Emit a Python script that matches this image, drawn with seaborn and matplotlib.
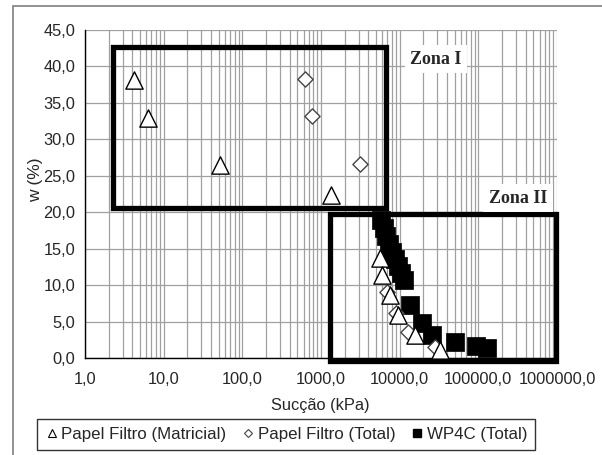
import matplotlib
matplotlib.use("Agg")
import matplotlib.pyplot as plt
from matplotlib.patches import Rectangle
from matplotlib.lines import Line2D
import seaborn as sns
import pandas as pd

# ---- data ----
mat_x = [4.2, 6.3, 52, 1340, 5600, 5900, 7500, 9500, 15500, 32500]
mat_y = [38.1, 32.9, 26.5, 22.4, 13.7, 11.4, 8.6, 5.9, 3.2, 1.1]

tot_x = [624, 766, 3120, 6900, 9000, 12700, 28000]
tot_y = [38.3, 33.2, 26.6, 9.0, 6.2, 3.6, 1.5]

wp_x = [5770, 6300, 6680, 7300, 7950, 8700, 9500, 10350, 11250, 13500, 19000, 25700, 50000, 93000, 128000]
wp_y = [18.9, 17.8, 16.7, 15.6, 14.5, 13.6, 12.6, 11.7, 10.7, 7.3, 4.8, 3.2, 2.2, 1.6, 1.4]

xticks = [1, 10, 100, 1000, 10000, 100000, 1000000]
xtick_labels = ["1,0", "10,0", "100,0", "1000,0", "10000,0", "100000,0", "1000000,0"]
yticks = [0, 5, 10, 15, 20, 25, 30, 35, 40, 45]
ytick_labels = ["0,0", "5,0", "10,0", "15,0", "20,0", "25,0", "30,0", "35,0", "40,0", "45,0"]

zone1 = [2.27, 6680, 20.6, 42.6]   # xmin, xmax, ymin, ymax
zone2 = [1316, 966000, -0.4, 19.8]
zone_labels = ["Zona I", "Zona II"]
zone_label_pos = [(28800, 41.0), (318000, 21.9)]

legend_labels = ["Papel Filtro (Matricial)", "Papel Filtro (Total)", "WP4C (Total)"]

# ---- plot ----
sns.set_style("white")
plt.rcParams['font.family'] = ['Liberation Sans', 'DejaVu Sans']

fig = plt.figure(figsize=(6.02, 4.55), dpi=100)
ax = fig.add_axes([85/602, 1-358/455, (557-85)/602, (358-30)/455])

df_m = pd.DataFrame({"x": mat_x, "y": mat_y})
df_t = pd.DataFrame({"x": tot_x, "y": tot_y})
df_w = pd.DataFrame({"x": wp_x, "y": wp_y})

sns.scatterplot(data=df_w, x="x", y="y", marker="s", s=150, color="black",
                edgecolor="black", linewidth=0.5, ax=ax, zorder=3, legend=False)
sns.scatterplot(data=df_t, x="x", y="y", marker="D", s=60, color="white",
                edgecolor="#444444", linewidth=1.0, ax=ax, zorder=4, legend=False)
sns.scatterplot(data=df_m, x="x", y="y", marker="^", s=155, color="white",
                edgecolor="black", linewidth=1.0, ax=ax, zorder=5, legend=False)

ax.set_xscale("log")
ax.set_xlim(1, 1e6)
ax.set_ylim(0, 45)
ax.set_xticks(xticks)
ax.set_xticklabels(xtick_labels, fontsize=11.8)
ax.set_yticks(yticks)
ax.set_yticklabels(ytick_labels, fontsize=11.8)
ax.xaxis.set_minor_formatter(matplotlib.ticker.NullFormatter())
ax.tick_params(axis="x", which="major", direction="out", length=4, width=1, color="black", pad=6)
ax.tick_params(axis="x", which="minor", length=0)
ax.tick_params(axis="y", which="major", direction="out", length=4, width=1, color="black", pad=3)
ax.grid(True, which="major", axis="both", color="#a0a0a0", lw=0.9)
ax.grid(True, which="minor", axis="x", color="#a0a0a0", lw=0.9)
ax.set_axisbelow(True)
for s in ["top", "right"]:
    ax.spines[s].set_visible(False)
for s in ["left", "bottom"]:
    ax.spines[s].set_color("black")
    ax.spines[s].set_linewidth(1.0)

ax.set_xlabel("Sucção (kPa)", fontsize=11.8)
ax.set_ylabel("w (%)", fontsize=12.5)
ax.xaxis.set_label_coords(0.498, -0.122)
ax.yaxis.set_label_coords(-0.088, 0.543)

for z in (zone1, zone2):
    ax.add_patch(Rectangle((z[0], z[2]), z[1]-z[0], z[3]-z[2], fill=False,
                           edgecolor="black", lw=3.8, zorder=6, clip_on=False))

for lab, (lx, ly) in zip(zone_labels, zone_label_pos):
    ax.text(lx, ly, lab, ha="center", va="center", fontsize=13, fontweight="bold",
            family=["Liberation Serif", "DejaVu Serif"], zorder=7,
            bbox=dict(facecolor="white", edgecolor="none", pad=4))

# outer chart frame
fig.patches.append(Rectangle((13/602, -0.2), 1.5, 1.2 - 6/455, transform=fig.transFigure,
                             fill=False, edgecolor="#7f7f7f", lw=1.2))

handles = [
    Line2D([], [], ls="none", marker="^", ms=6, mfc="white", mec="black", mew=0.8),
    Line2D([], [], ls="none", marker="D", ms=4.5, mfc="white", mec="#444444", mew=0.8),
    Line2D([], [], ls="none", marker="s", ms=6, mfc="black", mec="black"),
]
leg = fig.legend(handles, legend_labels, loc="center", bbox_to_anchor=(286/602, 1-434.5/455),
                 ncol=3, fontsize=12.2, frameon=True, fancybox=False, handlelength=0.8,
                 handletextpad=0.15, columnspacing=0.9, borderpad=0.45, borderaxespad=0)
leg.get_frame().set_edgecolor("black")
leg.get_frame().set_linewidth(1.0)

fig.savefig("out.png", dpi=100)
